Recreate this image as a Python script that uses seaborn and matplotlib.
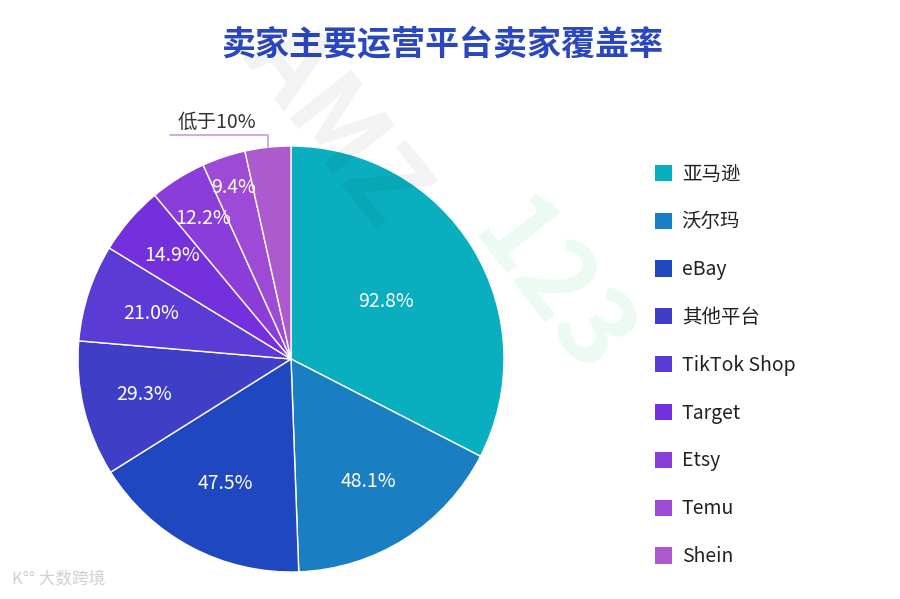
import matplotlib
matplotlib.use("Agg")
import matplotlib.pyplot as plt
import seaborn as sns
from matplotlib.patches import Patch
import numpy as np

platforms = ["亚马逊", "沃尔玛", "eBay", "其他平台", "TikTok Shop", "Target", "Etsy", "Temu", "Shein"]
coverage = [92.8, 48.1, 47.5, 29.3, 21.0, 14.9, 12.2, 9.4, 9.9]
pct_labels = ["92.8%", "48.1%", "47.5%", "29.3%", "21.0%", "14.9%", "12.2%", "9.4%", ""]
shein_note = "低于10%"
title = "卖家主要运营平台卖家覆盖率"

colors = ["#0AAFBF", "#1A7FC2", "#1F48C0", "#3E3FC6", "#5B3BD6",
          "#7530DD", "#8B3DD9", "#9D4BD6", "#AD5ACE"]

sns.set_theme(style="white")
plt.rcParams['font.family'] = ['Noto Sans CJK SC', 'DejaVu Sans']

W, H = 900, 599
fig = plt.figure(figsize=(9, 5.99), dpi=100)
fig.patch.set_facecolor("white")

cx, cy, R = 291, 359, 213
ax = fig.add_axes([(cx - R) / W, (H - cy - R) / H, 2 * R / W, 2 * R / H])
wedges, _ = ax.pie(coverage, colors=colors, startangle=90, counterclock=False,
                   radius=1.0, wedgeprops=dict(edgecolor="white", linewidth=1.0))
ax.set_xlim(-1, 1)
ax.set_ylim(-1, 1)
ax.set_aspect("equal")
ax.axis("off")

label_r = [0.52, 0.68, 0.66, 0.71, 0.69, 0.74, 0.78, 0.85, 0.7]
for w, lab, r in zip(wedges, pct_labels, label_r):
    if not lab:
        continue
    ang = np.deg2rad((w.theta1 + w.theta2) / 2)
    ax.text(r * np.cos(ang), r * np.sin(ang), lab, ha="center", va="center",
            color="white", fontsize=14)

# annotation for the Shein slice
ws = wedges[-1]
ang = np.deg2rad((ws.theta1 + ws.theta2) / 2)
x0, y0 = np.cos(ang), np.sin(ang)
ytop = 1.05
ax.plot([x0, x0, -0.57], [y0, ytop, ytop], color="#C79BE0", lw=1.2, clip_on=False)
ax.text(-0.35, ytop + 0.01, shein_note, ha="center", va="bottom",
        fontsize=14, color="#333333")

# legend
handles = [Patch(facecolor=c, edgecolor="none") for c in colors]
fig.legend(handles, platforms, loc="upper left",
           bbox_to_anchor=(637 / W, 1 - 146 / H), frameon=False,
           fontsize=14, handlelength=0.9, handleheight=0.9, handletextpad=0.5,
           labelspacing=1.38, labelcolor="#222222")

# title
fig.text(442 / W, 1 - 45 / H, title, ha="center", va="center",
         fontsize=24.5, fontweight="bold", color="#2B47BE")

# watermarks
fig.text(335 / W, 1 - 125 / H, "AMZ", ha="center", va="center", fontsize=76,
         fontweight="bold", color="#000000", alpha=0.05, rotation=-52)
fig.text(550 / W, 1 - 290 / H, "123", ha="center", va="center", fontsize=76,
         fontweight="bold", color="#2ECC71", alpha=0.09, rotation=-52)
fig.text(12 / W, 1 - 580 / H, "K°° 大数跨境", ha="left", va="center", fontsize=12,
         color="#D0D0D0")

fig.savefig("out.png", dpi=100, facecolor="white")
